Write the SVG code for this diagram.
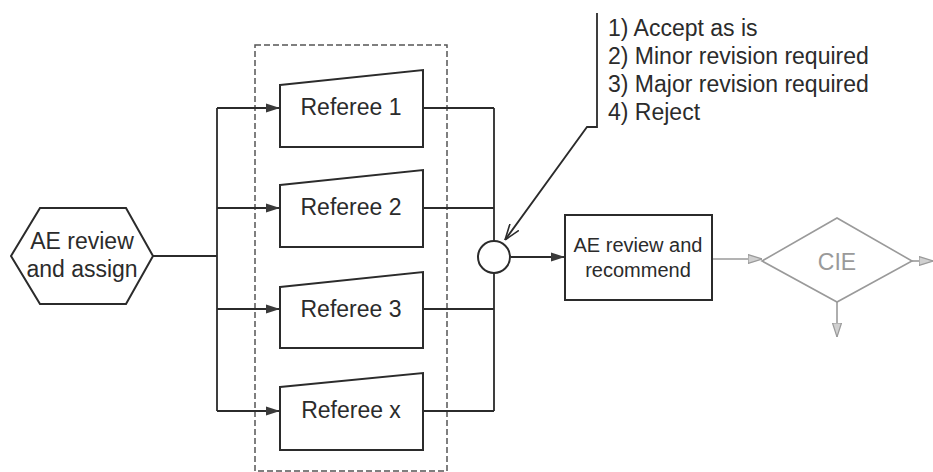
<svg xmlns="http://www.w3.org/2000/svg" width="933" height="472" viewBox="0 0 933 472">
<defs>
<style>
.txt{font-family:"Liberation Sans",Arial,sans-serif;fill:#2b2b2b}
.shape{fill:#fff;stroke:#2b2b2b;stroke-width:2}
.wire{fill:none;stroke:#2b2b2b;stroke-width:1.8}
.grey{fill:none;stroke:#9a9a9a;stroke-width:1.6}
.greytxt{font-family:"Liberation Sans",Arial,sans-serif;fill:#9a9a9a}
</style>
<marker id="ah" viewBox="0 0 14 10" refX="14" refY="5" markerWidth="14" markerHeight="10" markerUnits="userSpaceOnUse" orient="auto">
<path d="M0,0.5 L14,5 L0,9.5 Z" fill="#3a3a3a"/>
</marker>
<marker id="open" viewBox="0 0 16 12" refX="16" refY="6" markerWidth="16" markerHeight="12" markerUnits="userSpaceOnUse" orient="auto">
<path d="M0,0.5 L16,6 L0,11.5" fill="none" stroke="#2b2b2b" stroke-width="1.6"/>
</marker>
<marker id="gah" viewBox="0 0 14 10" refX="14" refY="5" markerWidth="14" markerHeight="10" markerUnits="userSpaceOnUse" orient="auto">
<path d="M0,0.5 L14,5 L0,9.5 Z" fill="#d0d0d0" stroke="#9a9a9a" stroke-width="1.2"/>
</marker>
</defs>
<rect width="933" height="472" fill="#fff"/>

<g id="reviewers-box">
<rect x="255" y="45" width="192" height="426" fill="none" stroke="#555" stroke-width="1.5" stroke-dasharray="6,3"/>
</g>

<g id="connectors">
<path class="wire" d="M153,256 H217 M217,108 V411"/>
<path class="wire" d="M217,108 H280" marker-end="url(#ah)"/>
<path class="wire" d="M217,208 H280" marker-end="url(#ah)"/>
<path class="wire" d="M217,309 H280" marker-end="url(#ah)"/>
<path class="wire" d="M217,411 H280" marker-end="url(#ah)"/>
<path class="wire" d="M423,108 H494 M423,208 H494 M423,309 H494 M423,411 H494 M494,108 V411"/>
<path class="wire" d="M511,257 H565" marker-end="url(#ah)"/>
<path class="wire" d="M597,13 V127 H587 L505,240" marker-end="url(#open)"/>
<path class="grey" d="M712,259 H762" marker-end="url(#gah)"/>
<path class="grey" d="M912,261 H933" marker-end="url(#gah)"/>
<path class="grey" d="M837,302 V337" marker-end="url(#gah)"/>
</g>

<g id="ae-assign">
<polygon class="shape" points="11,256 40,208 126,208 153,256 126,304 40,304"/>
<text class="txt" x="82" y="249" font-size="23" text-anchor="middle">AE review</text>
<text class="txt" x="82" y="277" font-size="23" text-anchor="middle">and assign</text>
</g>

<g id="referee-1">
<polygon class="shape" points="280,85 423,70 423,147 280,147"/>
<text class="txt" x="351" y="115" font-size="23" text-anchor="middle">Referee 1</text>
</g>
<g id="referee-2">
<polygon class="shape" points="280,185 423,170 423,247 280,247"/>
<text class="txt" x="351" y="215" font-size="23" text-anchor="middle">Referee 2</text>
</g>
<g id="referee-3">
<polygon class="shape" points="280,287 423,272 423,348 280,348"/>
<text class="txt" x="351" y="317" font-size="23" text-anchor="middle">Referee 3</text>
</g>
<g id="referee-x">
<polygon class="shape" points="280,387 423,373 423,450 280,450"/>
<text class="txt" x="351" y="418" font-size="23" text-anchor="middle">Referee x</text>
</g>

<g id="merge">
<circle class="shape" cx="494" cy="257" r="16"/>
</g>

<g id="decision-note">
<text class="txt" x="608" y="36" font-size="23">1) Accept as is</text>
<text class="txt" x="608" y="64" font-size="23">2) Minor revision required</text>
<text class="txt" x="608" y="92" font-size="23">3) Major revision required</text>
<text class="txt" x="608" y="120" font-size="23">4) Reject</text>
</g>

<g id="ae-recommend">
<rect class="shape" x="565" y="215" width="147" height="85"/>
<text class="txt" x="638" y="252" font-size="20" text-anchor="middle">AE review and</text>
<text class="txt" x="638" y="277" font-size="20" text-anchor="middle">recommend</text>
</g>

<g id="cie">
<polygon points="762,261 837,218 912,261 837,302" fill="#fff" stroke="#9a9a9a" stroke-width="1.6"/>
<text class="greytxt" x="837" y="270" font-size="23" text-anchor="middle">CIE</text>
</g>
</svg>
